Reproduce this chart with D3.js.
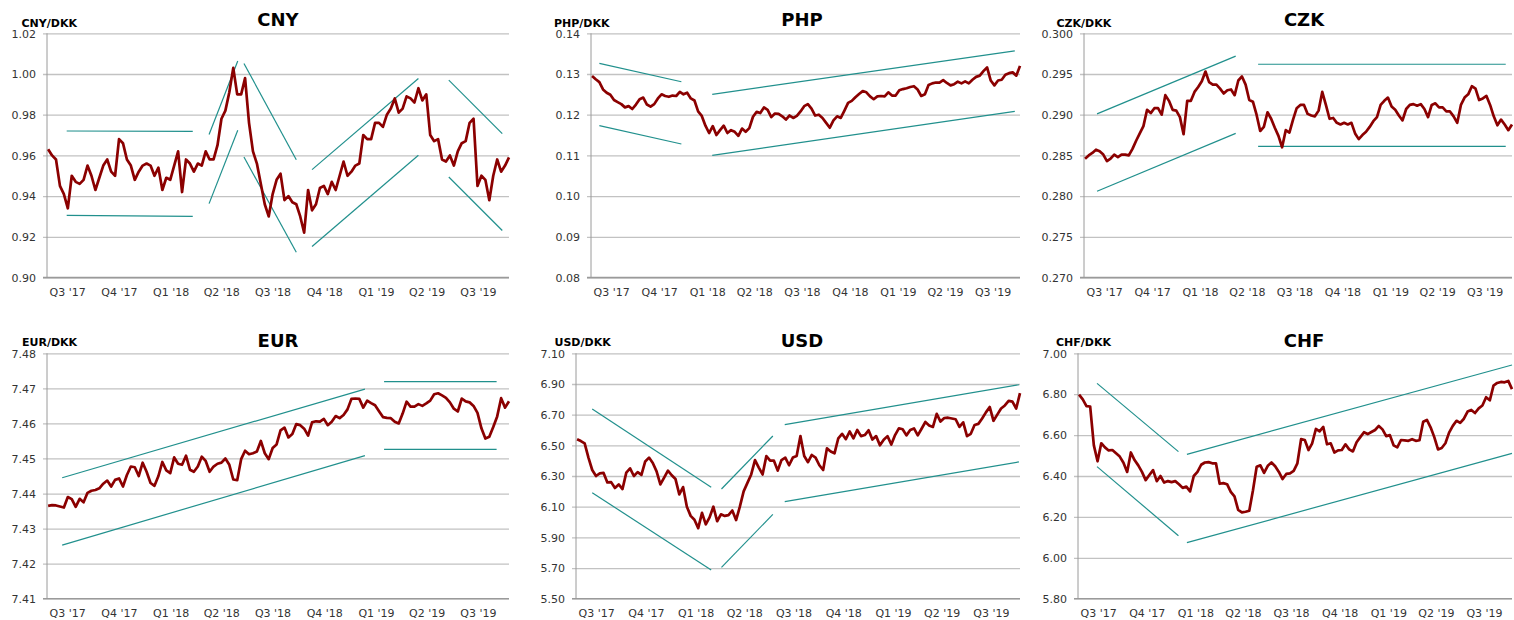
<!DOCTYPE html>
<html><head><meta charset="utf-8">
<script src="https://cdn.jsdelivr.net/npm/d3@7"></script>
<style>
body{margin:0;background:#fff}
svg{display:block}
text{font-family:"DejaVu Sans",Verdana,sans-serif}
</style>
</head><body>
<svg id="c" width="1514" height="620"></svg>
<script>
// ---------- DATA ----------
// weekly observation dates (Mondays, Jul 2017 - Sep 2019)
const weekDates = d3.timeMonday.range(new Date(2017,6,3), new Date(2019,9,1));

const quarterStarts = ["2017-07-01","2017-10-01","2018-01-01","2018-04-01","2018-07-01","2018-10-01","2019-01-01","2019-04-01","2019-07-01"];
const quarterLabels = ["Q3 '17","Q4 '17","Q1 '18","Q2 '18","Q3 '18","Q4 '18","Q1 '19","Q2 '19","Q3 '19"];

const cny = [0.963,0.960,0.958,0.945,0.941,0.934,0.950,0.947,0.946,0.948,
0.955,0.950,0.943,0.949,0.955,0.958,0.952,0.950,0.968,0.966,
0.958,0.955,0.948,0.952,0.955,0.956,0.955,0.950,0.954,0.943,
0.949,0.948,0.955,0.962,0.942,0.958,0.956,0.952,0.956,0.955,
0.962,0.958,0.958,0.965,0.978,0.982,0.991,1.003,0.990,0.990,
0.998,0.976,0.962,0.956,0.946,0.936,0.930,0.941,0.948,0.951,
0.938,0.940,0.937,0.936,0.930,0.922,0.943,0.933,0.936,0.944,
0.945,0.941,0.947,0.943,0.950,0.957,0.950,0.952,0.955,0.956,
0.970,0.968,0.968,0.976,0.976,0.974,0.980,0.983,0.988,0.981,
0.983,0.989,0.988,0.986,0.993,0.987,0.990,0.970,0.967,0.968,
0.958,0.957,0.960,0.955,0.962,0.966,0.967,0.976,0.978,0.945,
0.950,0.948,0.938,0.950,0.958,0.952,0.955,0.959];

const php = [0.1295,0.1287,0.1280,0.1262,0.1254,0.1249,0.1236,0.1231,0.1226,0.1218,
0.1221,0.1214,0.1225,0.1238,0.1242,0.1225,0.1220,0.1226,0.1240,0.1250,
0.1246,0.1244,0.1247,0.1246,0.1256,0.1250,0.1254,0.1240,0.1235,0.1208,
0.1197,0.1173,0.1155,0.1172,0.1150,0.1162,0.1173,0.1155,0.1162,0.1158,
0.1148,0.1166,0.1158,0.1167,0.1195,0.1207,0.1204,0.1218,0.1212,0.1194,
0.1203,0.1202,0.1196,0.1188,0.1198,0.1192,0.1197,0.1208,0.1221,0.1226,
0.1215,0.1198,0.1200,0.1192,0.1180,0.1168,0.1186,0.1196,0.1192,0.1210,
0.1229,0.1234,0.1243,0.1251,0.1258,0.1255,0.1245,0.1238,0.1245,0.1246,
0.1245,0.1255,0.1247,0.1247,0.1260,0.1263,0.1265,0.1268,0.1270,0.1262,
0.1246,0.1250,0.1273,0.1277,0.1279,0.1279,0.1285,0.1278,0.1272,0.1275,
0.1281,0.1277,0.1282,0.1277,0.1286,0.1293,0.1296,0.1307,0.1316,0.1284,
0.1272,0.1284,0.1286,0.1298,0.1302,0.1304,0.1296,0.1320];

const czk = [0.2846,0.2850,0.2853,0.2857,0.2855,0.2851,0.2843,0.2846,0.2851,0.2848,
0.2851,0.2851,0.2850,0.2858,0.2868,0.2877,0.2886,0.2906,0.2902,0.2908,
0.2908,0.2900,0.2924,0.2917,0.2906,0.2905,0.2897,0.2876,0.2917,0.2917,
0.2928,0.2934,0.2941,0.2953,0.2940,0.2937,0.2937,0.2932,0.2926,0.2930,
0.2931,0.2924,0.2942,0.2947,0.2937,0.2918,0.2916,0.2900,0.2880,0.2885,
0.2903,0.2895,0.2884,0.2874,0.2860,0.2881,0.2878,0.2894,0.2908,0.2912,
0.2912,0.2901,0.2899,0.2898,0.2905,0.2928,0.2912,0.2895,0.2896,0.2890,
0.2888,0.2890,0.2888,0.2890,0.2877,0.2870,0.2875,0.2879,0.2885,0.2892,
0.2897,0.2912,0.2917,0.2921,0.2910,0.2906,0.2899,0.2893,0.2907,0.2912,
0.2913,0.2911,0.2913,0.2907,0.2897,0.2912,0.2914,0.2909,0.2909,0.2904,
0.2904,0.2898,0.2890,0.2912,0.2921,0.2925,0.2935,0.2932,0.2918,0.2920,
0.2923,0.2912,0.2898,0.2887,0.2894,0.2888,0.2881,0.2888];

const eur = [7.4365,7.4367,7.4366,7.4363,7.4360,7.4390,7.4384,7.4362,7.4385,7.4375,
7.4402,7.4408,7.4410,7.4415,7.4428,7.4437,7.4420,7.4439,7.4443,7.4420,
7.4453,7.4477,7.4475,7.4450,7.4488,7.4462,7.4430,7.4422,7.4450,7.4490,
7.4466,7.4458,7.4503,7.4485,7.4482,7.4508,7.4468,7.4462,7.4477,7.4505,
7.4493,7.4462,7.4477,7.4485,7.4488,7.4500,7.4482,7.4440,7.4438,7.4498,
7.4522,7.4512,7.4515,7.4520,7.4550,7.4515,7.4498,7.4530,7.4540,7.4580,
7.4588,7.4560,7.4570,7.4598,7.4595,7.4585,7.4565,7.4603,7.4606,7.4605,
7.4613,7.4595,7.4605,7.4621,7.4615,7.4624,7.4640,7.4670,7.4671,7.4670,
7.4645,7.4665,7.4658,7.4652,7.4635,7.4618,7.4616,7.4615,7.4605,7.4600,
7.4628,7.4662,7.4648,7.4648,7.4655,7.4650,7.4657,7.4665,7.4683,7.4686,
7.4680,7.4673,7.4660,7.4642,7.4634,7.4671,7.4663,7.4660,7.4650,7.4630,
7.4586,7.4557,7.4562,7.4590,7.4620,7.4672,7.4645,7.4663];

const usd = [6.540,6.528,6.513,6.420,6.339,6.300,6.317,6.320,6.258,6.260,
6.222,6.245,6.215,6.322,6.350,6.300,6.325,6.307,6.395,6.420,
6.385,6.330,6.245,6.290,6.335,6.305,6.280,6.180,6.228,6.100,
6.040,6.015,5.960,6.060,5.985,6.030,6.100,6.005,6.050,6.040,
6.045,6.075,6.013,6.100,6.200,6.255,6.310,6.404,6.355,6.310,
6.430,6.400,6.400,6.335,6.404,6.420,6.370,6.420,6.430,6.560,
6.430,6.390,6.437,6.420,6.370,6.339,6.480,6.460,6.448,6.546,
6.575,6.540,6.590,6.545,6.600,6.560,6.567,6.598,6.538,6.560,
6.500,6.537,6.560,6.505,6.567,6.611,6.605,6.565,6.600,6.610,
6.565,6.608,6.652,6.630,6.620,6.705,6.655,6.678,6.680,6.675,
6.670,6.620,6.650,6.560,6.575,6.633,6.640,6.675,6.715,6.750,
6.660,6.700,6.740,6.760,6.790,6.785,6.740,6.840];

const chf = [6.798,6.775,6.742,6.740,6.550,6.472,6.560,6.540,6.525,6.527,
6.511,6.495,6.465,6.420,6.515,6.478,6.452,6.420,6.380,6.405,
6.429,6.375,6.400,6.368,6.375,6.370,6.375,6.360,6.342,6.348,
6.325,6.400,6.420,6.455,6.466,6.468,6.462,6.462,6.362,6.365,
6.360,6.322,6.300,6.234,6.222,6.225,6.230,6.330,6.445,6.452,
6.415,6.450,6.466,6.448,6.420,6.385,6.410,6.413,6.425,6.462,
6.580,6.576,6.527,6.560,6.630,6.618,6.640,6.555,6.560,6.515,
6.525,6.527,6.555,6.530,6.520,6.565,6.590,6.614,6.605,6.615,
6.625,6.645,6.628,6.595,6.600,6.550,6.540,6.576,6.574,6.572,
6.580,6.572,6.575,6.665,6.674,6.638,6.590,6.530,6.537,6.560,
6.612,6.645,6.670,6.660,6.680,6.715,6.723,6.708,6.731,6.745,
6.785,6.770,6.842,6.855,6.860,6.858,6.865,6.825];

// trend channels: [startDate, startValue, endDate, endValue]
const cnyTrends = [
 ["2017-08-05",0.9720,"2018-03-17",0.9718],["2017-08-05",0.9305,"2018-03-17",0.9300],
 ["2018-04-15",0.9363,"2018-06-05",0.9724],["2018-04-15",0.9703,"2018-06-05",1.0064],
 ["2018-06-16",1.0052,"2018-09-17",0.9579],["2018-06-16",0.9592,"2018-09-17",0.9124],
 ["2018-10-15",0.9530,"2019-04-22",0.9978],["2018-10-15",0.9152,"2019-04-22",0.9601],
 ["2019-06-15",0.9970,"2019-09-18",0.9707],["2019-06-15",0.9494,"2019-09-18",0.9231]];
const phpTrends = [
 ["2017-07-17",0.1326,"2017-12-21",0.1281],["2017-07-17",0.1173,"2017-12-21",0.1128],
 ["2018-02-18",0.1250,"2019-09-20",0.1357],["2018-02-18",0.1100,"2019-09-20",0.1208]];
const czkTrends = [
 ["2017-07-26",0.2901,"2018-04-18",0.2972],["2017-07-26",0.2806,"2018-04-18",0.2877],
 ["2018-05-31",0.2962,"2019-09-18",0.2962],["2018-05-31",0.2861,"2019-09-18",0.2861]];
const eurTrends = [
 ["2017-07-28",7.4445,"2019-01-17",7.4698],["2017-07-28",7.4253,"2019-01-17",7.4508],
 ["2019-02-20",7.4719,"2019-09-08",7.4719],["2019-02-20",7.4526,"2019-09-08",7.4526]];
const usdTrends = [
 ["2017-07-31",6.737,"2018-03-08",6.226],["2017-07-31",6.191,"2018-03-08",5.687],
 ["2018-03-27",6.215,"2018-06-30",6.561],["2018-03-27",5.704,"2018-06-30",6.050],
 ["2018-07-22",6.635,"2019-09-28",6.895],["2018-07-22",6.133,"2019-09-28",6.392]];
const chfTrends = [
 ["2017-08-06",6.853,"2018-01-07",6.519],["2017-08-06",6.446,"2018-01-07",6.108],
 ["2018-01-23",6.506,"2019-09-30",6.943],["2018-01-23",6.074,"2019-09-30",6.511]];

const cnyTicks = [0.90,0.92,0.94,0.96,0.98,1.00,1.02];
const phpTicks = [0.08,0.09,0.10,0.11,0.12,0.13,0.14];
const czkTicks = [0.270,0.275,0.280,0.285,0.290,0.295,0.300];
const eurTicks = [7.41,7.42,7.43,7.44,7.45,7.46,7.47,7.48];
const usdTicks = [5.50,5.70,5.90,6.10,6.30,6.50,6.70,6.90,7.10];
const chfTicks = [5.80,6.00,6.20,6.40,6.60,6.80,7.00];

// ---------- LAYOUT ----------
const panels = [
 {name:"CNY", unit:"CNY/DKK", vals:cny, trends:cnyTrends, ticks:cnyTicks, fmt:".2f",
  left:47, right:509, top:33.3, bottom:277.5, titleX:278, titleY:26, unitX:21.5, unitY:26.5},
 {name:"PHP", unit:"PHP/DKK", vals:php, trends:phpTrends, ticks:phpTicks, fmt:".2f",
  left:591, right:1020, top:33.3, bottom:277.5, titleX:802, titleY:26, unitX:554, unitY:26.5},
 {name:"CZK", unit:"CZK/DKK", vals:czk, trends:czkTrends, ticks:czkTicks, fmt:".3f",
  left:1084, right:1512, top:33.3, bottom:277.5, titleX:1304, titleY:26, unitX:1056.5, unitY:26.5},
 {name:"EUR", unit:"EUR/DKK", vals:eur, trends:eurTrends, ticks:eurTicks, fmt:".2f",
  left:47, right:509, top:353.3, bottom:598.7, titleX:278, titleY:346.5, unitX:22, unitY:346},
 {name:"USD", unit:"USD/DKK", vals:usd, trends:usdTrends, ticks:usdTicks, fmt:".2f",
  left:576, right:1020, top:353.3, bottom:598.7, titleX:802, titleY:346.5, unitX:554.5, unitY:346},
 {name:"CHF", unit:"CHF/DKK", vals:chf, trends:chfTrends, ticks:chfTicks, fmt:".2f",
  left:1078, right:1512, top:353.3, bottom:598.7, titleX:1304, titleY:346.5, unitX:1056, unitY:346}
];

const parse = d3.timeParse("%Y-%m-%d");
const svg = d3.select("#c");
const xDomain = [new Date(2017,6,1), new Date(2019,8,30)];

panels.forEach(p => {
  const g = svg.append("g");
  const x = d3.scaleTime().domain(xDomain).range([p.left, p.right]);
  const y = d3.scaleLinear().domain(d3.extent(p.ticks)).range([p.bottom, p.top]);
  const w = p.right - p.left;

  // y axis with gridlines
  const ya = g.append("g").attr("transform", `translate(${p.left-4},0)`)
    .call(d3.axisLeft(y).tickValues(p.ticks).tickFormat(d3.format(p.fmt))
      .tickSizeInner(-(w+4)).tickSizeOuter(0).tickPadding(7));
  ya.select(".domain").remove();
  ya.selectAll(".tick line").attr("stroke", "#c2c2c2").attr("stroke-width", 1.3);
  ya.selectAll(".tick text").attr("fill", "#333").attr("dy", "0.34em").style("font-size", "11px")
    .style("font-family", '"DejaVu Sans",Verdana,sans-serif');

  // axis lines
  g.append("line").attr("x1", p.left).attr("x2", p.left).attr("y1", p.top).attr("y2", p.bottom)
    .attr("stroke", "#9a9a9a").attr("stroke-width", 1);
  g.append("line").attr("x1", p.left-4).attr("x2", p.right).attr("y1", p.bottom).attr("y2", p.bottom)
    .attr("stroke", "#9a9a9a").attr("stroke-width", 1.3);

  // x axis labels
  const xa = g.append("g").attr("transform", `translate(0,${p.bottom})`)
    .call(d3.axisBottom(x).tickValues(quarterStarts.map(parse))
      .tickFormat((d,i) => quarterLabels[i]).tickSize(0).tickPadding(10.7));
  xa.select(".domain").remove();
  xa.selectAll(".tick text").attr("text-anchor", "start").attr("dx", 2)
    .attr("fill", "#333").style("font-size", "11px")
    .style("font-family", '"DejaVu Sans",Verdana,sans-serif');

  // trend lines
  g.selectAll(".trend").data(p.trends).join("line")
    .attr("x1", d => x(parse(d[0]))).attr("y1", d => y(d[1]))
    .attr("x2", d => x(parse(d[2]))).attr("y2", d => y(d[3]))
    .attr("stroke", "#21908d").attr("stroke-width", 1.2);

  // series line
  const line = d3.line().x((d,i) => x(weekDates[i])).y(d => y(d));
  g.append("path").datum(p.vals).attr("d", line)
    .attr("fill", "none").attr("stroke", "#8b0000").attr("stroke-width", 2.7)
    .attr("stroke-linejoin", "round");

  // titles
  g.append("text").attr("x", p.titleX).attr("y", p.titleY).attr("text-anchor", "middle")
    .style("font-size", "18px").style("font-weight", "bold").attr("fill", "#000").text(p.name);
  g.append("text").attr("x", p.unitX).attr("y", p.unitY)
    .style("font-size", "11px").style("font-weight", "bold").attr("fill", "#000").text(p.unit);
});
</script>
</body></html>
